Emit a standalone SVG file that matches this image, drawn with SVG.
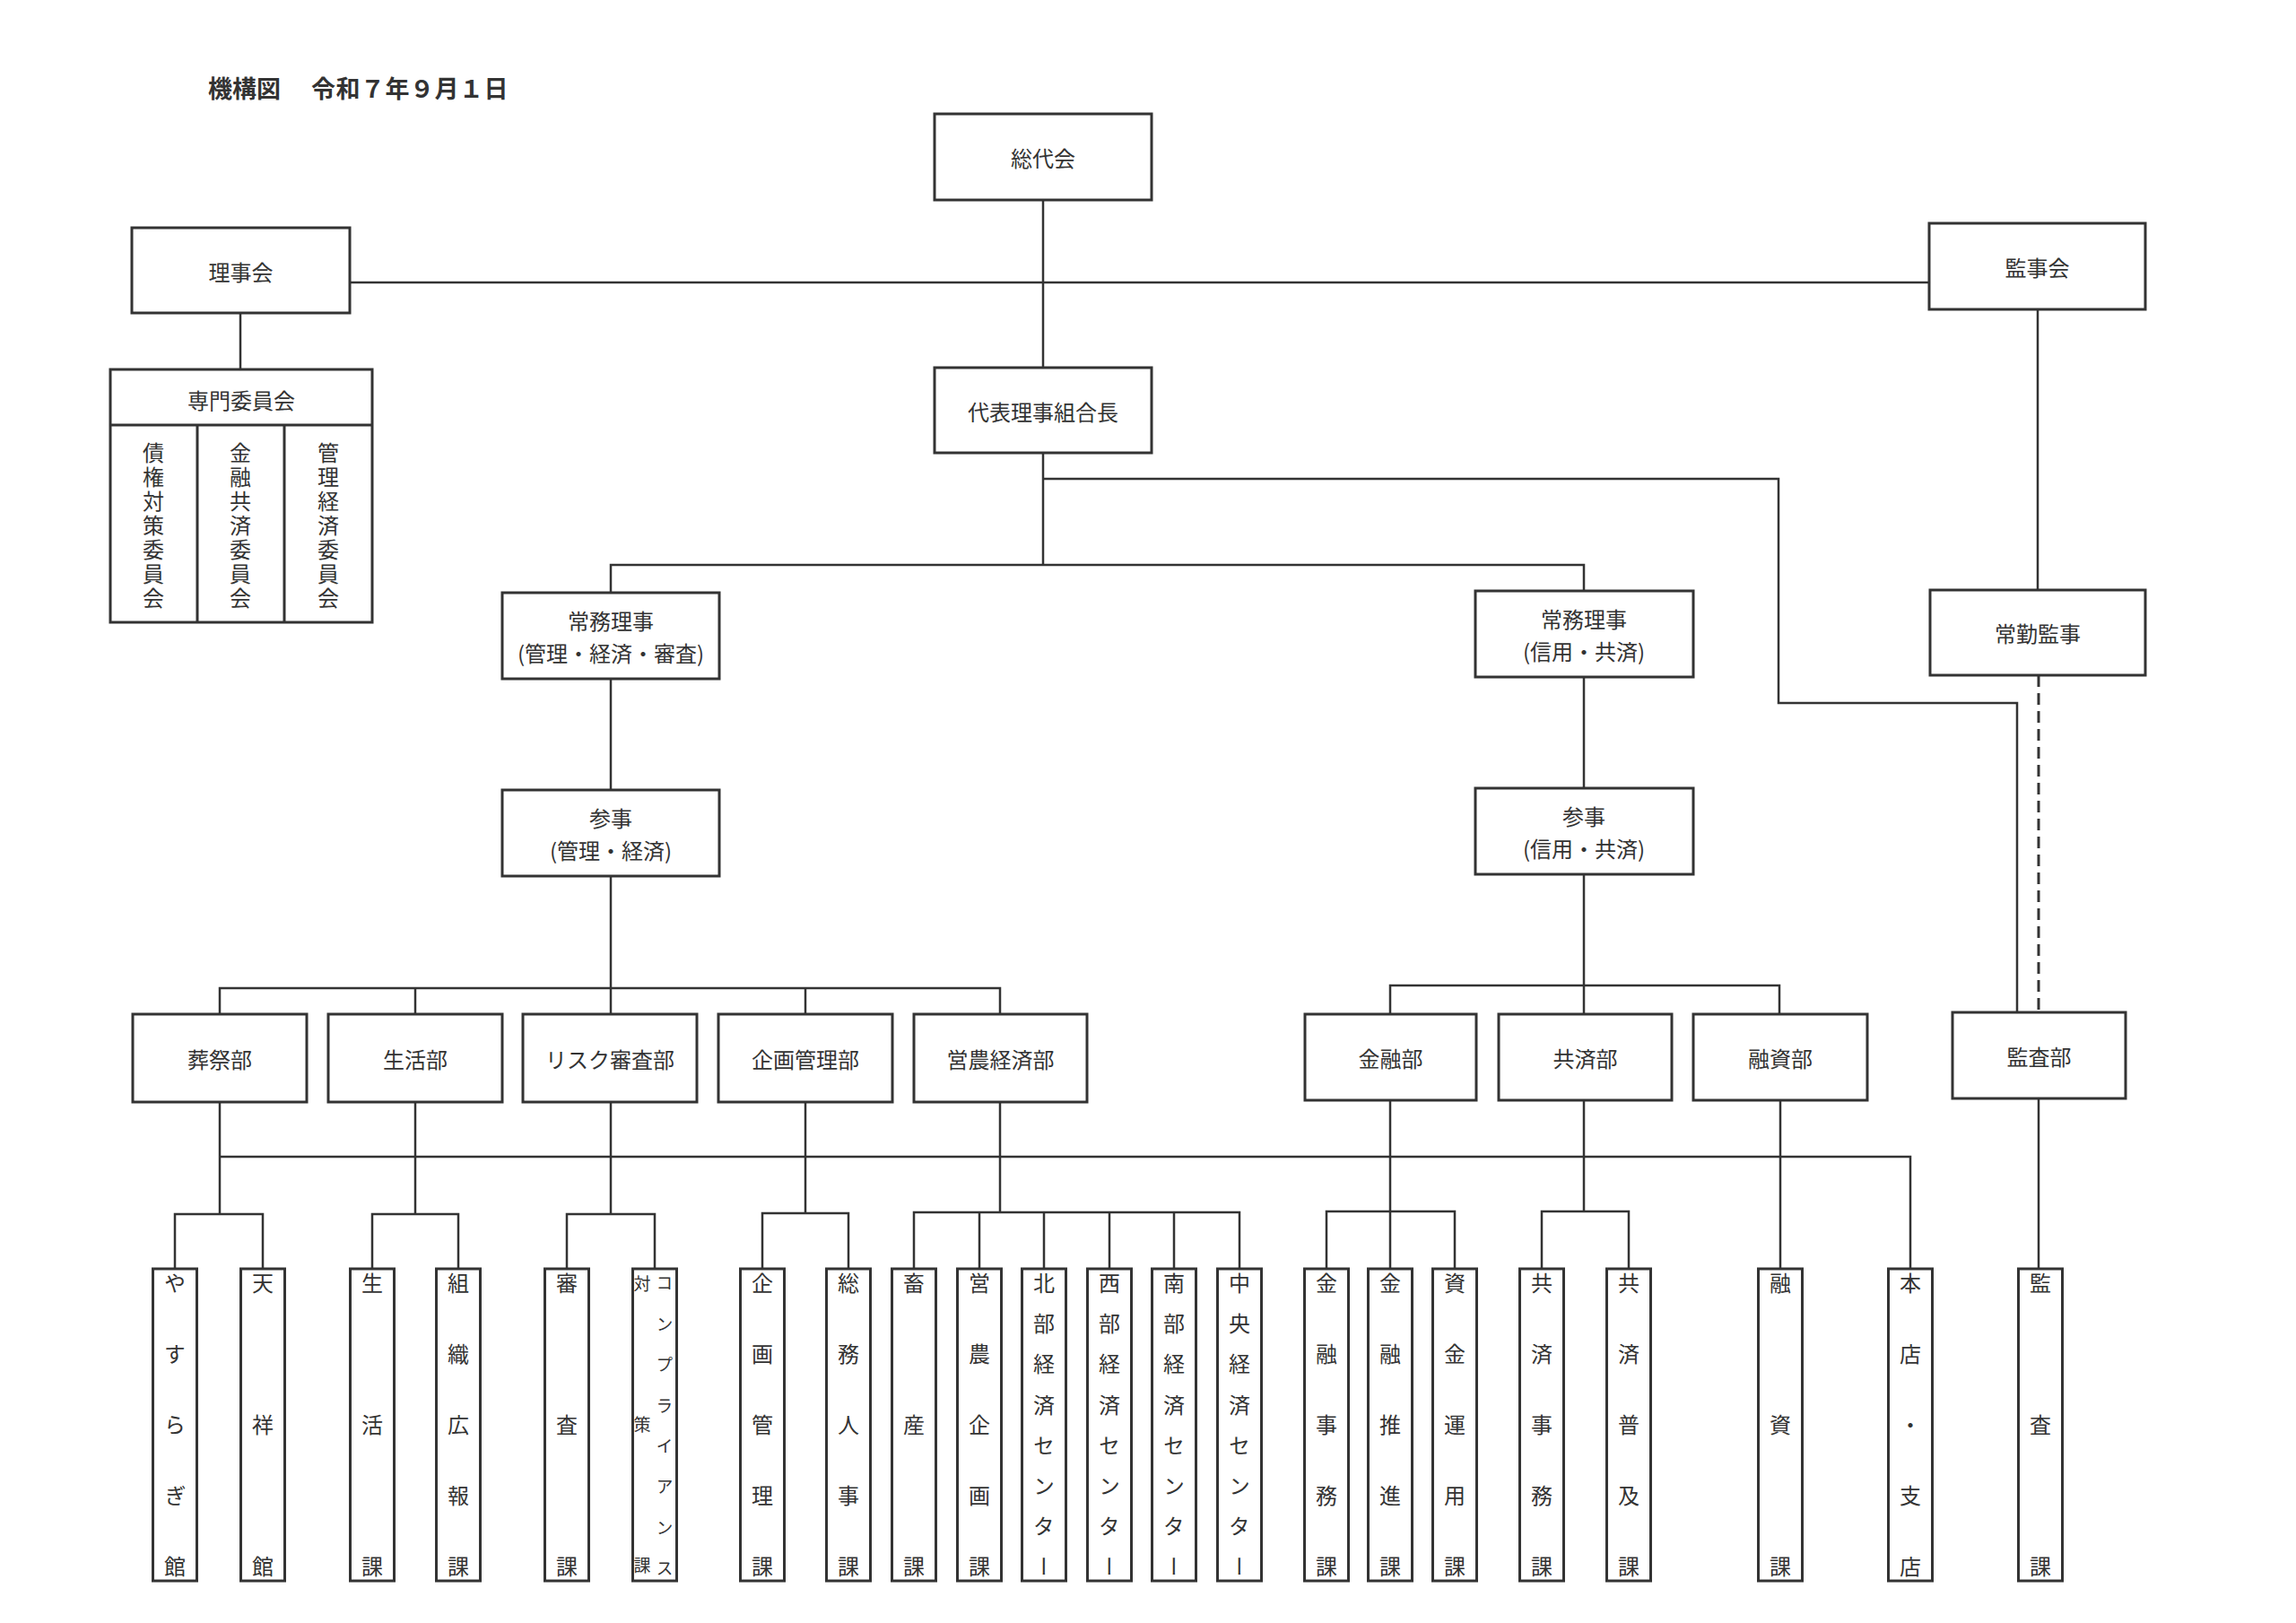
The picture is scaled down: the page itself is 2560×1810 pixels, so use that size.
<svg xmlns="http://www.w3.org/2000/svg" width="2560" height="1810" viewBox="0 0 2560 1810">
<style>
.box{fill:#fff;stroke:#333;stroke-width:3}
.ln{fill:none;stroke:#333;stroke-width:2.5}
.dash{fill:none;stroke:#333;stroke-width:3;stroke-dasharray:13 7}
.t{font-family:"Noto Sans CJK JP","Noto Sans CJK SC",sans-serif;font-size:24px;fill:#333;text-anchor:middle;dominant-baseline:central}
.v{font-family:"Noto Sans CJK JP","Noto Sans CJK SC",sans-serif;font-size:24px;fill:#333;text-anchor:start;writing-mode:vertical-rl}
.s{font-size:19px}
.title{font-family:"Noto Sans CJK JP","Noto Sans CJK SC",sans-serif;font-size:27px;font-weight:700;fill:#333;dominant-baseline:central}
</style>
<rect width="2560" height="1810" fill="#fff"/>
<g id="title">
<text class="title" x="232" y="97">機構図</text>
<text class="title" x="347" y="97" letter-spacing="0.5">令和７年９月１日</text>
</g>
<g id="connectors">
<path class="ln" d="M1163 223V410"/>
<path class="ln" d="M390 315H2151"/>
<path class="ln" d="M268 349V412"/>
<path class="ln" d="M2272 345V658"/>
<path class="ln" d="M1163 505V630"/>
<path class="ln" d="M681 661V630H1766V659"/>
<path class="ln" d="M1163 534H1983V784H2249V1129"/>
<path class="ln" d="M681 757V881"/>
<path class="ln" d="M1766 755V879"/>
<path class="ln" d="M681 977V1131"/>
<path class="ln" d="M245 1131V1102H1115V1131"/>
<path class="ln" d="M463 1102V1131"/>
<path class="ln" d="M898 1102V1131"/>
<path class="ln" d="M1766 975V1131"/>
<path class="ln" d="M1550 1131V1099H1984V1131"/>
<path class="dash" d="M2273 753V1129"/>
<path class="ln" d="M245 1229V1354"/>
<path class="ln" d="M463 1229V1354"/>
<path class="ln" d="M681 1229V1354"/>
<path class="ln" d="M898 1229V1353"/>
<path class="ln" d="M1115 1229V1352"/>
<path class="ln" d="M1550 1227V1416"/>
<path class="ln" d="M1766 1227V1351"/>
<path class="ln" d="M1985 1227V1416"/>
<path class="ln" d="M2273 1225V1416"/>
<path class="ln" d="M245 1290H2130V1416"/>
<path class="ln" d="M195 1416V1354H293V1416"/>
<path class="ln" d="M415 1416V1354H511V1416"/>
<path class="ln" d="M632 1416V1354H730V1416"/>
<path class="ln" d="M850 1416V1353H946V1416"/>
<path class="ln" d="M1019 1416V1352H1382V1416"/>
<path class="ln" d="M1092 1352V1416M1164 1352V1416M1237 1352V1416M1309 1352V1416"/>
<path class="ln" d="M1479 1416V1351H1622V1416"/>
<path class="ln" d="M1719 1416V1351H1816V1416"/>
</g>
<g id="n-soudaikai"><rect class="box" x="1042" y="127" width="242" height="96"/><text class="t" x="1163" y="175">総代会</text></g>
<g id="n-rijikai"><rect class="box" x="147" y="254" width="243" height="95"/><text class="t" x="268.5" y="302">理事会</text></g>
<g id="n-kanjikai"><rect class="box" x="2151" y="249" width="241" height="96"/><text class="t" x="2271.5" y="297">監事会</text></g>
<g id="n-senmon">
<rect class="box" x="123" y="412" width="292" height="282"/>
<path class="box" d="M123 474H415M220 474V694M317 474V694" fill="none"/>
<text class="t" x="269" y="445">専門委員会</text>
<text class="v" x="171" y="493" letter-spacing="3">債権対策委員会</text>
<text class="v" x="268" y="493" letter-spacing="3">金融共済委員会</text>
<text class="v" x="366" y="493" letter-spacing="3">管理経済委員会</text>
</g>
<g id="n-daihyo"><rect class="box" x="1042" y="410" width="242" height="95"/><text class="t" x="1163" y="458">代表理事組合長</text></g>
<g id="n-jomu1"><rect class="box" x="560" y="661" width="242" height="96"/><text class="t"><tspan x="681" y="691">常務理事</tspan><tspan x="681" y="727">(管理・経済・審査)</tspan></text></g>
<g id="n-sanji1"><rect class="box" x="560" y="881" width="242" height="96"/><text class="t"><tspan x="681" y="911">参事</tspan><tspan x="681" y="947">(管理・経済)</tspan></text></g>
<g id="n-jomu2"><rect class="box" x="1645" y="659" width="243" height="96"/><text class="t"><tspan x="1766" y="689">常務理事</tspan><tspan x="1766" y="725">(信用・共済)</tspan></text></g>
<g id="n-sanji2"><rect class="box" x="1645" y="879" width="243" height="96"/><text class="t"><tspan x="1766" y="909">参事</tspan><tspan x="1766" y="945">(信用・共済)</tspan></text></g>
<g id="n-jokin"><rect class="box" x="2152" y="658" width="240" height="95"/><text class="t" x="2272" y="705">常勤監事</text></g>
<g id="n-sosai"><rect class="box" x="148" y="1131" width="194" height="98"/><text class="t" x="245" y="1180">葬祭部</text></g>
<g id="n-seikatsu"><rect class="box" x="366" y="1131" width="194" height="98"/><text class="t" x="463" y="1180">生活部</text></g>
<g id="n-risk"><rect class="box" x="583" y="1131" width="194" height="98"/><text class="t" x="680" y="1180">リスク審査部</text></g>
<g id="n-kikaku"><rect class="box" x="801" y="1131" width="194" height="98"/><text class="t" x="898" y="1180">企画管理部</text></g>
<g id="n-einou"><rect class="box" x="1019" y="1131" width="193" height="98"/><text class="t" x="1115.5" y="1180">営農経済部</text></g>
<g id="n-kinyu"><rect class="box" x="1455" y="1131" width="191" height="96"/><text class="t" x="1550.5" y="1179">金融部</text></g>
<g id="n-kyosai"><rect class="box" x="1671" y="1131" width="193" height="96"/><text class="t" x="1767.5" y="1179">共済部</text></g>
<g id="n-yushi"><rect class="box" x="1888" y="1131" width="194" height="96"/><text class="t" x="1985" y="1179">融資部</text></g>
<g id="n-kansa"><rect class="box" x="2177" y="1129" width="193" height="96"/><text class="t" x="2273.5" y="1177">監査部</text></g>
<g id="n-yasuragi"><rect class="box" x="170.5" y="1415" width="49" height="348"/><text class="v" x="195" y="1419 1498 1577 1656 1735">やすらぎ館</text></g>
<g id="n-tensho"><rect class="box" x="268.5" y="1415" width="49" height="348"/><text class="v" x="293" y="1419 1577 1735">天祥館</text></g>
<g id="n-seikatsuka"><rect class="box" x="390.5" y="1415" width="49" height="348"/><text class="v" x="415" y="1419 1577 1735">生活課</text></g>
<g id="n-soshiki"><rect class="box" x="486.5" y="1415" width="49" height="348"/><text class="v" x="511" y="1419 1498 1577 1656 1735">組織広報課</text></g>
<g id="n-shinsa"><rect class="box" x="607.5" y="1415" width="49" height="348"/><text class="v" x="632" y="1419 1577 1735">審査課</text></g>
<g id="n-comp"><rect class="box" x="705.5" y="1415" width="49" height="348"/>
<text class="v s" x="741" y="1421.5 1467 1512.4 1557.8 1603.2 1648.7 1694.1 1739.5">コンプライアンス</text>
<text class="v s" x="716" y="1422.5 1579.5 1736.5">対策課</text></g>
<g id="n-kikakuka"><rect class="box" x="825.5" y="1415" width="49" height="348"/><text class="v" x="850" y="1419 1498 1577 1656 1735">企画管理課</text></g>
<g id="n-somu"><rect class="box" x="921.5" y="1415" width="49" height="348"/><text class="v" x="946" y="1419 1498 1577 1656 1735">総務人事課</text></g>
<g id="n-chikusan"><rect class="box" x="994.5" y="1415" width="49" height="348"/><text class="v" x="1019" y="1419 1577 1735">畜産課</text></g>
<g id="n-einoukikaku"><rect class="box" x="1067.5" y="1415" width="49" height="348"/><text class="v" x="1092" y="1419 1498 1577 1656 1735">営農企画課</text></g>
<g id="n-hokubu"><rect class="box" x="1139.5" y="1415" width="49" height="348"/><text class="v" x="1164" y="1419 1464.1 1509.3 1554.4 1599.6 1644.7 1689.9 1735">北部経済センター</text></g>
<g id="n-seibu"><rect class="box" x="1212.5" y="1415" width="49" height="348"/><text class="v" x="1237" y="1419 1464.1 1509.3 1554.4 1599.6 1644.7 1689.9 1735">西部経済センター</text></g>
<g id="n-nanbu"><rect class="box" x="1284.5" y="1415" width="49" height="348"/><text class="v" x="1309" y="1419 1464.1 1509.3 1554.4 1599.6 1644.7 1689.9 1735">南部経済センター</text></g>
<g id="n-chuo"><rect class="box" x="1357.5" y="1415" width="49" height="348"/><text class="v" x="1382" y="1419 1464.1 1509.3 1554.4 1599.6 1644.7 1689.9 1735">中央経済センター</text></g>
<g id="n-kinyujimu"><rect class="box" x="1454.5" y="1415" width="49" height="348"/><text class="v" x="1479" y="1419 1498 1577 1656 1735">金融事務課</text></g>
<g id="n-kinyusuishin"><rect class="box" x="1525.5" y="1415" width="49" height="348"/><text class="v" x="1550" y="1419 1498 1577 1656 1735">金融推進課</text></g>
<g id="n-shikin"><rect class="box" x="1597.5" y="1415" width="49" height="348"/><text class="v" x="1622" y="1419 1498 1577 1656 1735">資金運用課</text></g>
<g id="n-kyosaijimu"><rect class="box" x="1694.5" y="1415" width="49" height="348"/><text class="v" x="1719" y="1419 1498 1577 1656 1735">共済事務課</text></g>
<g id="n-kyosaifukyu"><rect class="box" x="1791.5" y="1415" width="49" height="348"/><text class="v" x="1816" y="1419 1498 1577 1656 1735">共済普及課</text></g>
<g id="n-yushika"><rect class="box" x="1960.5" y="1415" width="49" height="348"/><text class="v" x="1985" y="1419 1577 1735">融資課</text></g>
<g id="n-honten"><rect class="box" x="2105.5" y="1415" width="49" height="348"/><text class="v" x="2130" y="1419 1498 1577 1656 1735">本店・支店</text></g>
<g id="n-kansaka"><rect class="box" x="2250.5" y="1415" width="49" height="348"/><text class="v" x="2275" y="1419 1577 1735">監査課</text></g>
</svg>
